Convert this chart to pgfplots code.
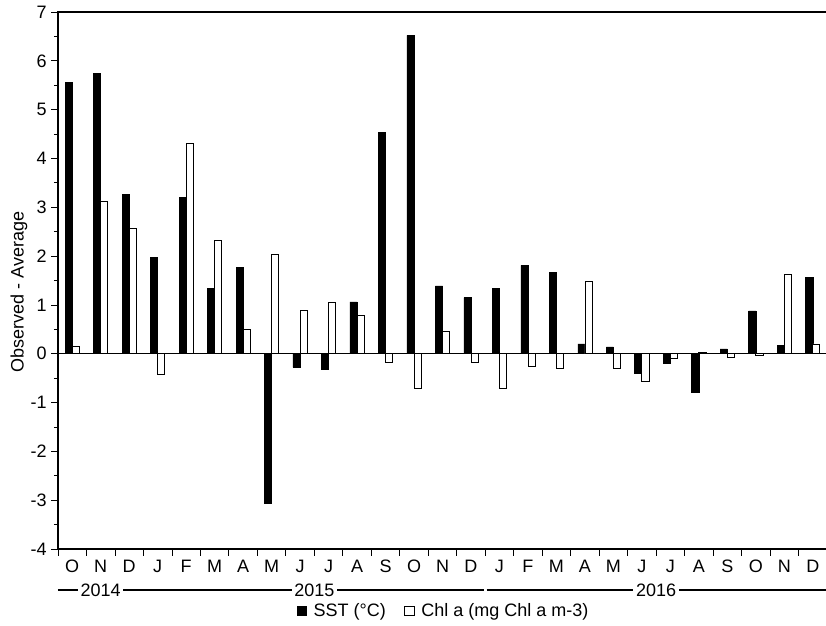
\documentclass[border=0pt]{standalone}
\usepackage{pgfplots}
\pgfplotsset{compat=1.18}
\usepackage{fontspec}
\setmainfont{Liberation Sans}
\newcommand\fs{\fontsize{13.5pt}{16pt}\selectfont}

% anomalies (observed - average), Oct 2014 .. Dec 2016
\pgfplotstableread{
idx sst chl
0 5.56 0.15
1 5.74 3.13
2 3.26 2.57
3 1.98 -0.43
4 3.20 4.30
5 1.34 2.32
6 1.77 0.49
7 -3.06 2.03
8 -0.28 0.89
9 -0.31 1.06
10 1.06 0.78
11 4.54 -0.17
12 6.52 -0.71
13 1.39 0.46
14 1.15 -0.18
15 1.34 -0.70
16 1.81 -0.26
17 1.67 -0.31
18 0.20 1.48
19 0.14 -0.31
20 -0.40 -0.57
21 -0.19 -0.10
22 -0.79 0.02
23 0.10 -0.07
24 0.88 -0.04
25 0.17 1.62
26 1.56 0.20
}\anom
\usepackage{pgfplotstable}

\begin{document}
\begin{tikzpicture}
\begin{axis}[
    scale only axis,
    width=576.75pt,
    height=402.75pt,
    xmin=-0.5, xmax=26.5,
    ymin=-4, ymax=7,
    clip mode=individual,
    axis line style={black, line width=0.8pt},
    tick align=outside,
    major tick length=5pt,
    minor tick length=3pt,
    tick style={black, line width=0.6pt},
    xtick={-0.5,0.5,...,26.5},
    x tick label as interval,
    xticklabels={O,N,D,J,F,M,A,M,J,J,A,S,O,N,D,J,F,M,A,M,J,J,A,S,O,N,D},
    xtick pos=bottom,
    ytick={-4,...,7},
    yticklabels={-4,-3,-2,-1,0,1,2,3,4,5,6,7},
    minor ytick={-3.5,-2.5,...,6.5},
    ytick pos=left,
    ticklabel style={font=\fs},
    ylabel={Observed - Average},
    ylabel style={font=\fs, at={(axis description cs:-0.0507,0.479)}, anchor=center},
    extra y ticks={0},
    extra y tick labels={},
    extra y tick style={grid=major, major grid style={black, line width=0.6pt}},
    legend columns=2,
    legend style={
        at={(axis description cs:0.502,-0.1155)},
        anchor=center,
        draw=none,
        fill=none,
        font=\fs,
        /tikz/every even column/.append style={column sep=12pt},
    },
    legend image code/.code={
        \draw[#1] (0pt,-3.5pt) rectangle (7pt,3.5pt);
        \path (10pt,0pt);
    },
]
\addplot[ybar, bar width=0.25, bar shift=-0.125, fill=black, draw=black]
    table[x=idx, y=sst] {\anom};
\addlegendentry{SST (°C)}
\addplot[ybar, bar width=0.25, bar shift=0.125, fill=white, draw=black, line width=0.6pt]
    table[x=idx, y=chl] {\anom};
\addlegendentry{Chl a (mg Chl a m-3)}

% year row
\draw[line width=1.1pt] ([yshift=-30.75pt]axis cs:-0.5,-4) -- ([yshift=-30.75pt]axis cs:2.5,-4)
    node[midway, fill=white, inner xsep=2pt, inner ysep=1pt, font=\fs] {2014};
\draw[line width=1.1pt, shorten >=1pt] ([yshift=-30.75pt]axis cs:2.5,-4) -- ([yshift=-30.75pt]axis cs:14.5,-4)
    node[midway, fill=white, inner xsep=2pt, inner ysep=1pt, font=\fs] {2015};
\draw[line width=1.1pt, shorten <=1pt] ([yshift=-30.75pt]axis cs:14.5,-4) -- ([yshift=-30.75pt]axis cs:26.5,-4)
    node[midway, fill=white, inner xsep=2pt, inner ysep=1pt, font=\fs] {2016};

\coordinate (SW) at (rel axis cs:0,0);
\coordinate (NE) at (rel axis cs:1,1);
\end{axis}
\pgfresetboundingbox
\path ([shift={(-43.5pt,-57pt)}]SW) rectangle ([shift={(-0.75pt,9pt)}]NE);
\end{tikzpicture}
\end{document}
